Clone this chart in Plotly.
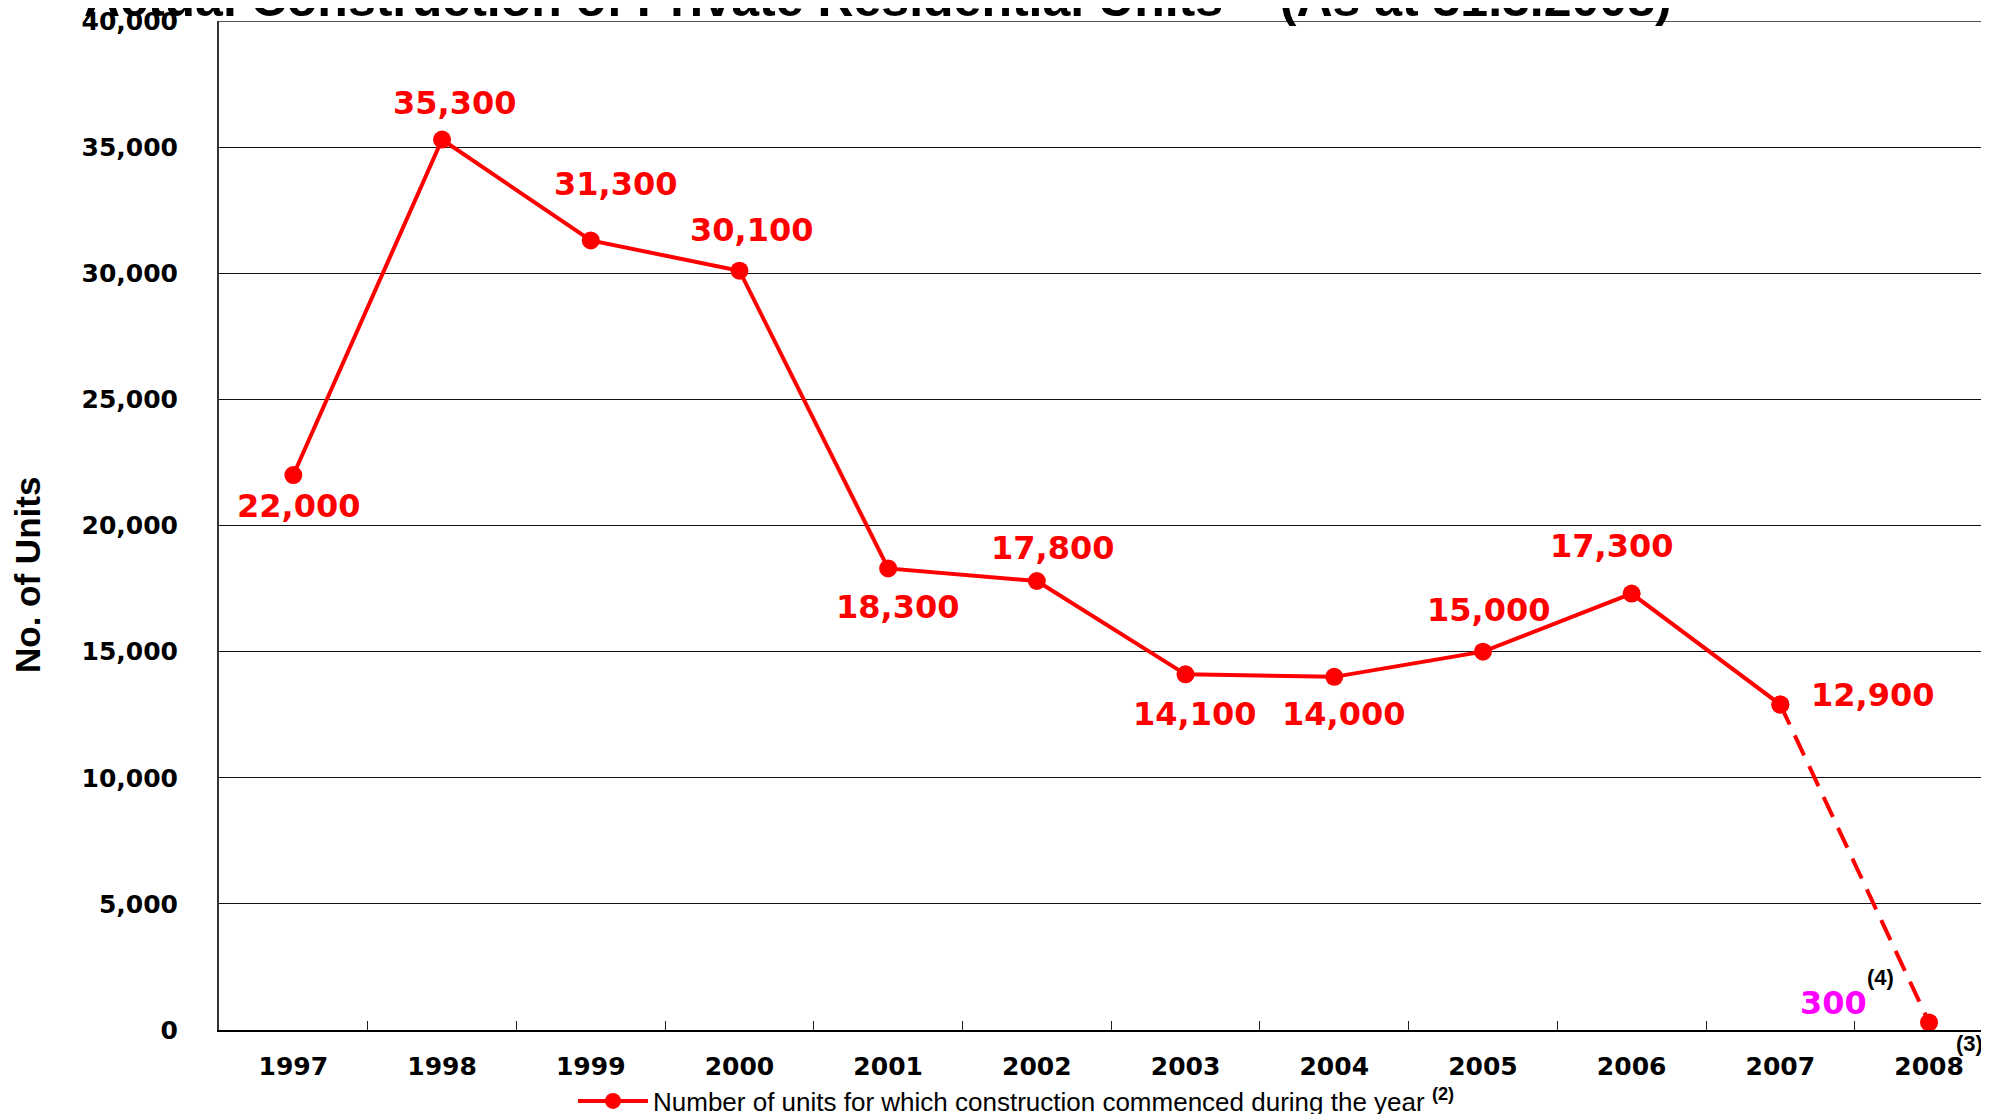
import plotly.graph_objects as go

years = ["1997", "1998", "1999", "2000", "2001", "2002", "2003", "2004", "2005", "2006", "2007", "2008"]
units = [22000, 35300, 31300, 30100, 18300, 17800, 14100, 14000, 15000, 17300, 12900, 300]
# label offsets in pixels (dx, dy with dy positive = up)
label_dx = [5, 12, 25, 12, 9, 16, 9, 9, 6, -20, 92, -96]
label_dy = [-31, 37, 56, 41, -39, 33, -40, -37, 42, 48, 10, 19]
label_colors = ["#FF0000"] * 11 + ["#FF00FF"]

y_ticks = [0, 5000, 10000, 15000, 20000, 25000, 30000, 35000, 40000]
y_ticktext = [f"{v:,}" for v in y_ticks]

RED = "#FF0000"
W, H = 1989, 1114
L, T, B = 211, 13, 92
PH = H - T - B          # plot height in px
PW = W - L              # plot width in px
CAT = 148.7             # px per category

fig = go.Figure()

fig.add_trace(go.Scatter(
    x=years[:11], y=units[:11], mode="lines+markers",
    line=dict(color=RED, width=4),
    marker=dict(color=RED, size=18, symbol="circle"),
    name="Number of units for which construction commenced during the year <sup><b>(2)</b></sup>",
    showlegend=True,
))
fig.add_trace(go.Scatter(
    x=years[10:], y=units[10:], mode="lines+markers",
    line=dict(color=RED, width=4, dash="22px,12px"),
    marker=dict(color=RED, size=18, symbol="circle"),
    showlegend=False,
))

annotations = []
for i, (v, dx, dy, c) in enumerate(zip(units, label_dx, label_dy, label_colors)):
    annotations.append(dict(
        x=i, y=v, xref="x", yref="y", text=f"<b>{v:,}</b>", showarrow=False,
        xshift=dx, yshift=dy, xanchor="center", yanchor="middle",
        font=dict(family="DejaVu Sans", size=32, color=c),
    ))

# title (partially cut off at top)
annotations.append(dict(
    x=(82 - 8 - L) / PW, y=1 + (T + 13) / PH, xref="paper", yref="paper",
    xanchor="left", yanchor="middle", showarrow=False,
    text="<b>Actual Construction of Private Residential Units<sup>(1)</sup> (As at 31.3.2008)</b>",
    font=dict(family="Liberation Sans, Arial, sans-serif", size=50, color="black"),
))
# y axis title
annotations.append(dict(
    x=(19 - L) / PW, y=1 - (567 - T) / PH, xref="paper", yref="paper",
    xanchor="center", yanchor="middle", showarrow=False, textangle=-90,
    text="<b>No. of Units</b>",
    font=dict(family="Liberation Sans, Arial", size=35, color="black"),
))
# footnote markers
annotations.append(dict(
    x=11, y=units[11], xref="x", yref="y", text="<b>(4)</b>", showarrow=False,
    xshift=-49, yshift=45, font=dict(family="Liberation Sans, Arial", size=22, color="black"),
))
annotations.append(dict(
    x=11, y=0, xref="x", yref="y", text="<b>(3)</b>", showarrow=False,
    xshift=40, yshift=-13, font=dict(family="Liberation Sans, Arial", size=22, color="black"),
))

fig.update_layout(
    width=W, height=H,
    margin=dict(l=L, r=0, t=T, b=B, pad=0, autoexpand=False),
    paper_bgcolor="white", plot_bgcolor="white",
    showlegend=True,
    legend=dict(
        orientation="h", xref="container", yref="container",
        x=565 / W, y=1 - 1093 / H, xanchor="left", yanchor="middle",
        itemwidth=70,
        font=dict(family="Liberation Sans, Arial", size=26, color="black"),
        bgcolor="rgba(0,0,0,0)",
    ),
    annotations=annotations,
    shapes=[dict(type="line", xref="paper", yref="y", x0=0, x1=1, y0=40000, y1=40000,
                 line=dict(color="#555", width=2))],
    xaxis=dict(
        type="category", range=[-0.5, -0.5 + PW / CAT],
        showline=True, linecolor="black", linewidth=2,
        ticks="inside", ticklen=9, tickcolor="#222", tickwidth=1,
        tickson="boundaries", showgrid=False,
        ticklabelstandoff=13,
        tickfont=dict(family="DejaVu Sans", size=25, color="black", weight="bold"),
    ),
    yaxis=dict(
        range=[0, 40000], tickvals=y_ticks, ticktext=y_ticktext,
        showline=True, linecolor="#333", linewidth=2,
        showgrid=True, gridcolor="#111", gridwidth=1,
        zeroline=False, ticks="", ticklabelstandoff=34,
        ticklabeloverflow="allow",
        tickfont=dict(family="DejaVu Sans", size=25, color="black", weight="bold"),
    ),
)

fig.write_html("out.html")
